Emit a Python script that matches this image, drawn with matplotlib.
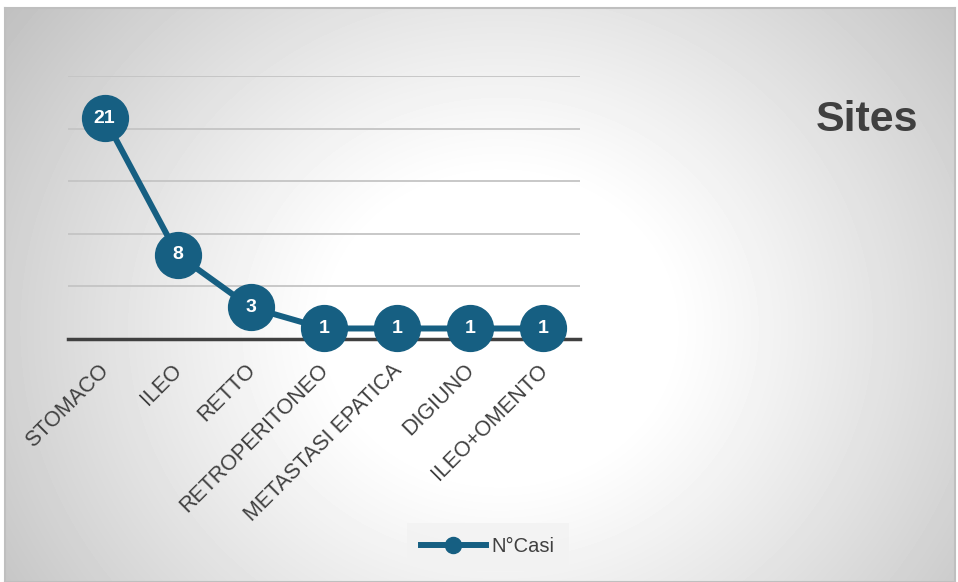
import numpy as np
import matplotlib
matplotlib.use("Agg")
import matplotlib.pyplot as plt
import matplotlib.transforms as mtransforms

plt.rcParams["font.family"] = ["Liberation Sans", "DejaVu Sans"]

# Data
sites = ["STOMACO", "ILEO", "RETTO", "RETROPERITONEO",
         "METASTASI EPATICA", "DIGIUNO", "ILEO+OMENTO"]
casi = [21, 8, 3, 1, 1, 1, 1]

W, H = 958, 582
fig = plt.figure(figsize=(W / 100, H / 100), dpi=100)
fig.patch.set_facecolor("white")

# Radial gradient background inside a light border box
bg = fig.add_axes([5 / W, 0, (W - 8) / W, (H - 8) / H])
yy, xx = np.mgrid[0:574, 0:950]
cx, cy = 495, 320
r = np.sqrt(((xx - cx) / 560) ** 2 + ((yy - cy) / 500) ** 2)
shade = 1.0 - 0.25 * np.clip((r - 0.3) / 0.8, 0, 1) ** 1.1
bg.imshow(shade, cmap="gray", vmin=0, vmax=1, aspect="auto", interpolation="bilinear")
bg.set_xticks([])
bg.set_yticks([])
for s in bg.spines.values():
    s.set_color("#bfbfbf")
    s.set_linewidth(1.5)

color = "#165f82"
ax = fig.add_axes([68 / W, 1 - 339 / H, 512 / W, 263 / H])
ax.set_facecolor("none")
x = np.arange(len(sites))
ax.plot(x, casi, color=color, lw=4.3, marker="o", ms=33, mfc=color, mec=color,
        label="N°Casi", clip_on=False, zorder=3)
for xi, v in zip(x, casi):
    ax.text(xi, v, str(v), color="white", fontsize=14, fontweight="bold",
            ha="center", va="center", zorder=4)

ax.set_xlim(-0.5, len(sites) - 0.5)
ax.set_ylim(0, 25)
ax.set_yticks([5, 10, 15, 20, 25])
ax.yaxis.grid(True, color="#c4c4c4", lw=1.3)
ax.set_axisbelow(True)
ax.tick_params(axis="y", length=0, labelleft=False)
ax.tick_params(axis="x", length=0, pad=15)
ax.set_xticks(x)
ax.set_xticklabels(sites, rotation=45, ha="right", rotation_mode="anchor",
                   fontsize=15.5, color="#404040")
# nudge labels slightly left like the original
shift = mtransforms.ScaledTranslation(-6 / 100, 0, fig.dpi_scale_trans)
for lbl in ax.get_xticklabels():
    lbl.set_transform(lbl.get_transform() + shift)
for side in ["top", "right", "left"]:
    ax.spines[side].set_visible(False)
ax.spines["bottom"].set_color("#404040")
ax.spines["bottom"].set_linewidth(2.5)

fig.text(918 / W, 1 - 120 / H, "Sites", fontsize=31, fontweight="bold",
         color="#404040", ha="right", va="center")

h, l = ax.get_legend_handles_labels()
leg = fig.legend(h, l, loc="center", bbox_to_anchor=(488 / W, 1 - 547 / H),
                 frameon=True, fontsize=14.5, handlelength=3.2, markerscale=0.35,
                 handletextpad=0.3, borderpad=0.7)
leg.get_frame().set_facecolor("#f2f2f2")
leg.get_frame().set_edgecolor("none")
leg.get_frame().set_boxstyle("square", pad=0.0)
for t in leg.get_texts():
    t.set_color("#404040")

fig.savefig("out.png", dpi=100)
